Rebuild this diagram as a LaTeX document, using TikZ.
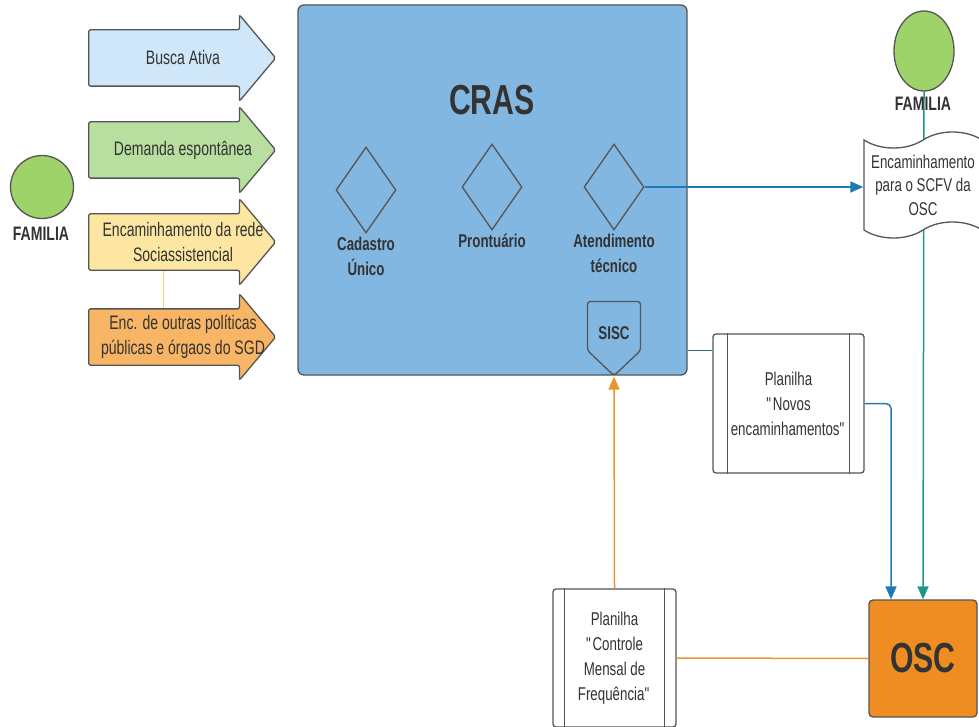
\documentclass[tikz,border=0pt]{standalone}
\usepackage{fontspec}
\setmainfont{Liberation Sans}[FakeStretch=0.72]
\usetikzlibrary{shapes.arrows,shapes.geometric,shapes.symbols,arrows.meta,positioning}
\pgfdeclarelayer{background}
\pgfsetlayers{background,main}
\definecolor{bordgray}{HTML}{555555}
\definecolor{txtgray}{HTML}{333333}
\definecolor{azulbusca}{HTML}{CFE7F8}
\definecolor{verdedem}{HTML}{B8DFA0}
\definecolor{amareloenc}{HTML}{FCE6A2}
\definecolor{laranjaenc}{HTML}{F8B565}
\definecolor{verdefam}{HTML}{9ED36A}
\definecolor{crasblue}{HTML}{82B7E2}
\definecolor{oscorange}{HTML}{EF8C22}
\definecolor{linhateal}{HTML}{1E978A}
\definecolor{linhaazul}{HTML}{1F7BB6}
\definecolor{linhalaranja}{HTML}{E8972E}
\definecolor{linhaescura}{HTML}{2B6E86}
\definecolor{linhaamarela}{HTML}{F5D56A}
\begin{document}
\begin{tikzpicture}
  [x=1pt,y=-1pt,every node/.style={text=txtgray,align=center,font=\fontsize{18.5}{25}\selectfont}]
  \tikzstyle{entrada} = [single arrow,draw=bordgray,line width=1.3pt,minimum height=187pt,
    single arrow head extend=15pt,single arrow tip angle=100,inner xsep=2pt,inner ysep=27.5pt,anchor=tail,rounded corners=2pt]
  \tikzstyle{entradatexto} = [font=\fontsize{19.5}{25}\selectfont]
  \tikzstyle{familia} = [ellipse,draw=bordgray,fill=verdefam,line width=1.3pt,inner sep=0pt]
  \tikzstyle{rotulo} = [font=\bfseries\fontsize{18.5}{25}\selectfont]
  \tikzstyle{losango} = [diamond,draw=bordgray,line width=1.3pt,minimum width=60pt,minimum height=86pt,inner sep=0pt]
  \tikzstyle{planilha} = [rectangle,rounded corners=3pt,draw=bordgray,fill=white,line width=1.3pt]
  \tikzstyle{titulo} = [font=\bfseries\fontsize{42}{44}\selectfont]
  \tikzstyle{seta} = [line width=1.5pt,-{Triangle[length=13pt,width=11pt]}]
  \useasboundingbox (0,0) rectangle (979,727);

  % familia e entradas
  \node[familia,minimum width=63pt,minimum height=63pt] (fam1) at (42,187) {};
  \node[rotulo,font=\bfseries\fontsize{19.5}{25}\selectfont] (fam1l) at (41,234) {FAMILIA};
  \foreach \nome/\y/\cor/\texto in {a1/58/azulbusca/Busca Ativa,a2/150/verdedem/Demanda espontânea,
      a3/242/amareloenc/{Encaminhamento da rede\\Sociassistencial},
      a4/337/laranjaenc/{Enc. de outras políticas\\públicas e órgaos do SGD}}
  {
    \node[entrada,fill=\cor] (\nome) at (88,\y) {};
    \node[entradatexto] (\nome-txt) at (183,\y) {\texto};
  }

  % CRAS
  \node[draw=bordgray,fill=crasblue,line width=1.3pt,rounded corners=6pt,minimum width=389pt,minimum height=370pt] (cras) at (492.5,190) {};
  \node[titulo] (crast) at (492,100) {CRAS};
  \node[losango] (cad) at (366,190) {};
  \node[losango] (pro) at (492,187) {};
  \node[losango] (ate) at (614,187) {};
  \node[rotulo,below=0pt of cad] (cadl) {Cadastro\\Único};
  \node[rotulo,below=0pt of pro] (prol) {Prontuário};
  \node[rotulo,below=0pt of ate] (atel) {Atendimento\\técnico};
  \node[signal,signal to=south,signal pointer angle=93,draw=bordgray,fill=crasblue,line width=1.3pt,
    rounded corners=3pt,minimum width=53pt,minimum height=67pt,text height=28pt,rotulo] (sisc) at (614,326) {SISC};

  % lado direito
  \node[familia,minimum width=60pt,minimum height=80pt] (fam2) at (924,51) {};
  \node[rotulo,font=\bfseries\fontsize{19.5}{25}\selectfont] (fam2l) at (923,104) {FAMILIA};
  \node[tape,draw=bordgray,fill=white,line width=1.3pt,minimum width=118pt,minimum height=106pt,
    tape bend height=16pt,inner sep=1pt,font=\fontsize{18.5}{23.5}\selectfont] (enc) at (923,185) {Encaminhamento\\para o SCFV da\\OSC};
  \node[planilha,minimum width=151pt,minimum height=139pt] (pn) at (788.5,403.5)
    {Planilha\\\textquotedbl Novos\\encaminhamentos\textquotedbl};
  \draw[bordgray,line width=1.3pt] ([xshift=15pt]pn.north west) -- ([xshift=15pt]pn.south west);
  \draw[bordgray,line width=1.3pt] ([xshift=-15pt]pn.north east) -- ([xshift=-15pt]pn.south east);
  \node[planilha,minimum width=123pt,minimum height=138pt] (pc) at (614.5,658)
    {Planilha\\\textquotedbl Controle\\Mensal de\\Frequência\textquotedbl};
  \draw[bordgray,line width=1.3pt] ([xshift=12pt]pc.north west) -- ([xshift=12pt]pc.south west);
  \draw[bordgray,line width=1.3pt] ([xshift=-12pt]pc.north east) -- ([xshift=-12pt]pc.south east);
  \node[draw=bordgray,fill=oscorange,line width=1.3pt,rounded corners=4pt,minimum width=108pt,minimum height=117pt,titulo] (osc) at (923,658.5) {OSC};

  % ligacoes
  \begin{pgfonlayer}{background}
    \draw[linhaamarela,line width=1pt] ([xshift=75pt]a3.tail) -- ([xshift=75pt]a4.tail);
    \draw[seta,linhateal] (fam2.south) -- (osc.north);
  \end{pgfonlayer}
  \draw[seta,linhaazul] (ate.east) -- (ate.east -| enc.west);
  \draw[linhaescura,line width=1.5pt] ([yshift=53pt]pn.west -| cras.east) -- ([yshift=53pt]pn.west);
  \draw[seta,linhaazul,rounded corners=5pt] (pn.east) -| ([xshift=-32pt]osc.north);
  \draw[seta,linhalaranja] (pc.north) -- (sisc.south);
  \draw[linhalaranja,line width=1.5pt] (osc.west) -- (pc.east);
\end{tikzpicture}
\end{document}
